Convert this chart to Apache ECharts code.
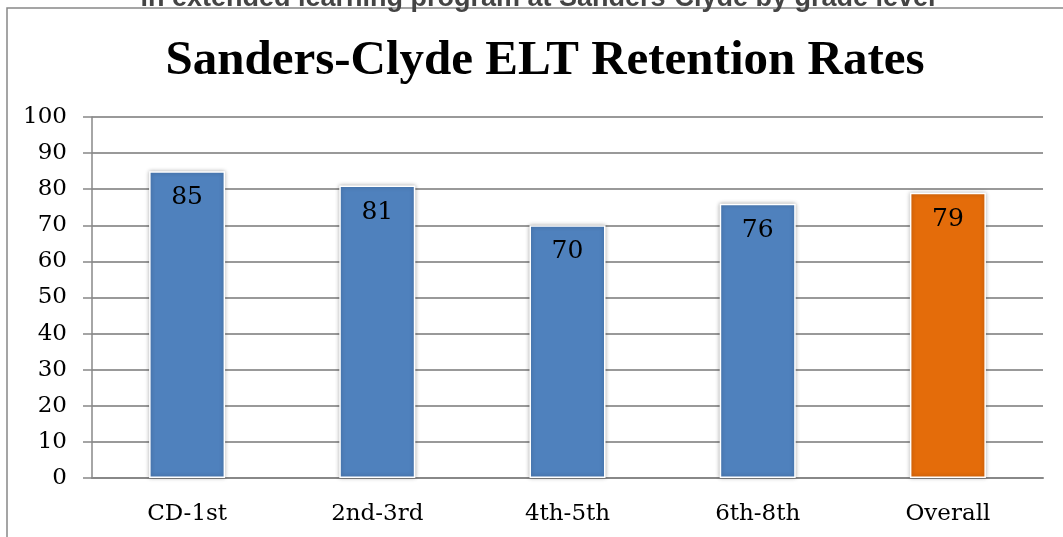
<!DOCTYPE html>
<html>
<head>
<meta charset="utf-8">
<script src="https://cdn.jsdelivr.net/npm/echarts@6/dist/echarts.min.js"></script>
<style>
  html, body { margin: 0; padding: 0; background: #fff; }
  #main { width: 1063px; height: 537px; }
</style>
</head>
<body>
<div id="main"></div>
<script>
var categories = ['CD-1st', '2nd-3rd', '4th-5th', '6th-8th', 'Overall'];
var retention = [85, 81, 70, 76, 79];
var barColors = ['#4f81bd', '#4f81bd', '#4f81bd', '#4f81bd', '#e46c0a'];

window.onload = function () {
    var myChart = echarts.init(document.getElementById('main'));
    var option = {
        backgroundColor: '#fff',
        animation: false,
        title: {
            text: 'Sanders-Clyde ELT Retention Rates',
            left: 540,
            textAlign: 'center',
            top: 32,
            textStyle: {
                fontFamily: 'Liberation Serif',
                fontWeight: 'bold',
                fontSize: 49,
                color: '#000'
            }
        },
        graphic: [
            {
                type: 'rect',
                shape: { x: 7, y: 8, width: 1070, height: 540 },
                style: { fill: 'none', stroke: '#888', lineWidth: 1.5 },
                silent: true
            },
            {
                // caption of the page above, mostly cut off
                type: 'text',
                x: 538,
                y: 12,
                style: {
                    text: 'in extended learning program at Sanders-Clyde by grade level',
                    font: 'bold 27px "Liberation Sans"',
                    fill: '#444',
                    align: 'center',
                    verticalAlign: 'bottom'
                },
                silent: true
            },
            {
                // white strip hiding what lies below the frame top
                type: 'rect',
                shape: { x: 0, y: 7.5, width: 1063, height: 12 },
                style: { fill: '#fff' },
                z: -1,
                silent: true
            }
        ],
        grid: {
            left: 92,
            right: 20,
            top: 117,
            bottom: 59
        },
        xAxis: {
            type: 'category',
            data: categories,
            axisLine: { lineStyle: { color: '#888', width: 2 } },
            axisTick: { length: 7, lineStyle: { color: '#888', width: 1.5 } },
            axisLabel: {
                margin: 25,
                fontFamily: 'DejaVu Serif',
                fontSize: 23,
                color: '#000'
            }
        },
        yAxis: {
            type: 'value',
            min: 0,
            max: 100,
            interval: 10,
            axisLine: { show: true, lineStyle: { color: '#888', width: 1.5 } },
            axisTick: { show: true, length: 9, lineStyle: { color: '#888', width: 1.5 } },
            splitLine: { lineStyle: { color: '#999', width: 2 } },
            axisLabel: {
                margin: 25,
                fontFamily: 'DejaVu Serif',
                fontSize: 23,
                color: '#000'
            }
        },
        series: [{
            type: 'bar',
            data: retention,
            barWidth: 76,
            itemStyle: {
                color: function (p) { return barColors[p.dataIndex]; },
                borderColor: '#fff',
                borderWidth: 1.5,
                shadowColor: 'rgba(0,0,0,0.3)',
                shadowBlur: 4
            },
            label: {
                show: true,
                position: 'insideTop',
                distance: 14,
                fontFamily: 'DejaVu Serif',
                fontSize: 25,
                color: '#000'
            }
        }]
    };
    myChart.setOption(option);
};
</script>
</body>
</html>
